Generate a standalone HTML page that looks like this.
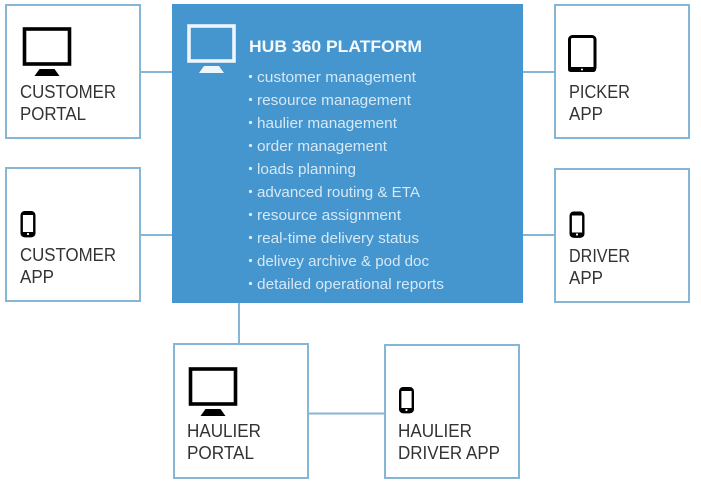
<!DOCTYPE html>
<html><head><meta charset="utf-8"><style>
html,body{margin:0;padding:0;background:#fff;width:701px;height:504px;overflow:hidden}
svg{display:block}
text{font-family:"Liberation Sans",sans-serif}
.l{font-size:18px;fill:#333}
.b{fill:#d6e8f5;font-size:15px}
</style></head><body>
<svg width="701" height="504" viewBox="0 0 701 504" xmlns="http://www.w3.org/2000/svg">
<defs>
<g id="mon"><rect x="2" y="2" width="45" height="35" fill="none" stroke="currentColor" stroke-width="3.600"/><path d="M17 42H32L37 49H12Z" fill="currentColor"/></g>
<g id="ph"><rect x="1.200" y="1.200" width="12.600" height="24" rx="3" fill="#fff" stroke="#000" stroke-width="2.400"/><rect x="1" y="21" width="13" height="4.500" rx="2" fill="#000"/><rect x="1" y="1" width="13" height="3" rx="1.500" fill="#000"/><circle cx="7.500" cy="23" r="1.100" fill="#fff"/></g>
</defs>
<g stroke="#86b6d6" stroke-width="2" fill="none">
<path d="M140 72H172M140 235H172M523 72H555M523 235H555M239 303V344M308 413.500H385"/>
<rect x="6" y="5" width="134" height="133" fill="#fff"/>
<rect x="6" y="168" width="134" height="133" fill="#fff"/>
<rect x="555" y="5" width="134" height="133" fill="#fff"/>
<rect x="555" y="169" width="134" height="133" fill="#fff"/>
<rect x="174" y="344" width="134" height="134" fill="#fff"/>
<rect x="385" y="345" width="134" height="133" fill="#fff"/>
</g>
<rect x="172" y="4" width="351" height="299" fill="#4596cf"/>
<use href="#mon" x="22.500" y="27" color="#000"/>
<use href="#mon" x="187" y="24" color="#eef6fb"/>
<use href="#mon" x="188.500" y="367" color="#000"/>
<use href="#ph" x="20.500" y="211"/>
<use href="#ph" x="569.500" y="211.500"/>
<use href="#ph" x="399" y="387"/>
<rect x="569.500" y="36.500" width="25.500" height="34" rx="3" fill="#fff" stroke="#000" stroke-width="3"/>
<rect x="568" y="67" width="28" height="5" rx="2.500" fill="#000"/>
<circle cx="582" cy="69.500" r="1" fill="#fff"/>

<text class="l" x="20" y="98" textLength="96" lengthAdjust="spacingAndGlyphs">CUSTOMER</text>
<text class="l" x="20" y="120" textLength="66" lengthAdjust="spacingAndGlyphs">PORTAL</text>
<text class="l" x="20" y="261" textLength="96" lengthAdjust="spacingAndGlyphs">CUSTOMER</text>
<text class="l" x="20" y="283" textLength="34" lengthAdjust="spacingAndGlyphs">APP</text>
<text class="l" x="569" y="98" textLength="61" lengthAdjust="spacingAndGlyphs">PICKER</text>
<text class="l" x="569" y="120" textLength="34" lengthAdjust="spacingAndGlyphs">APP</text>
<text class="l" x="569" y="262" textLength="61" lengthAdjust="spacingAndGlyphs">DRIVER</text>
<text class="l" x="569" y="284" textLength="34" lengthAdjust="spacingAndGlyphs">APP</text>
<text class="l" x="187" y="437" textLength="74" lengthAdjust="spacingAndGlyphs">HAULIER</text>
<text class="l" x="187" y="459" textLength="67" lengthAdjust="spacingAndGlyphs">PORTAL</text>
<text class="l" x="398" y="437" textLength="74" lengthAdjust="spacingAndGlyphs">HAULIER</text>
<text class="l" x="398" y="459" textLength="102" lengthAdjust="spacingAndGlyphs">DRIVER APP</text>

<text x="249" y="52" font-size="17" font-weight="700" fill="#f4f9fc" textLength="173" lengthAdjust="spacingAndGlyphs">HUB 360 PLATFORM</text>
<g fill="#dcebf6">
<circle cx="250.500" cy="76.500" r="1.600"/><circle cx="250.500" cy="99.500" r="1.600"/><circle cx="250.500" cy="122.500" r="1.600"/><circle cx="250.500" cy="145.500" r="1.600"/><circle cx="250.500" cy="168.500" r="1.600"/><circle cx="250.500" cy="191.500" r="1.600"/><circle cx="250.500" cy="214.500" r="1.600"/><circle cx="250.500" cy="237.500" r="1.600"/><circle cx="250.500" cy="260.500" r="1.600"/><circle cx="250.500" cy="283.500" r="1.600"/>
</g>
<text class="b" x="257" y="82" textLength="159" lengthAdjust="spacingAndGlyphs">customer management</text>
<text class="b" x="257" y="105" textLength="154" lengthAdjust="spacingAndGlyphs">resource management</text>
<text class="b" x="257" y="128" textLength="140" lengthAdjust="spacingAndGlyphs">haulier management</text>
<text class="b" x="257" y="151" textLength="130" lengthAdjust="spacingAndGlyphs">order management</text>
<text class="b" x="257" y="174" textLength="99" lengthAdjust="spacingAndGlyphs">loads planning</text>
<text class="b" x="257" y="197" textLength="163" lengthAdjust="spacingAndGlyphs">advanced routing &amp; ETA</text>
<text class="b" x="257" y="220" textLength="144" lengthAdjust="spacingAndGlyphs">resource assignment</text>
<text class="b" x="257" y="243" textLength="162" lengthAdjust="spacingAndGlyphs">real-time delivery status</text>
<text class="b" x="257" y="266" textLength="172" lengthAdjust="spacingAndGlyphs">delivey archive &amp; pod doc</text>
<text class="b" x="257" y="289" textLength="187" lengthAdjust="spacingAndGlyphs">detailed operational reports</text>
</svg>
</body></html>
